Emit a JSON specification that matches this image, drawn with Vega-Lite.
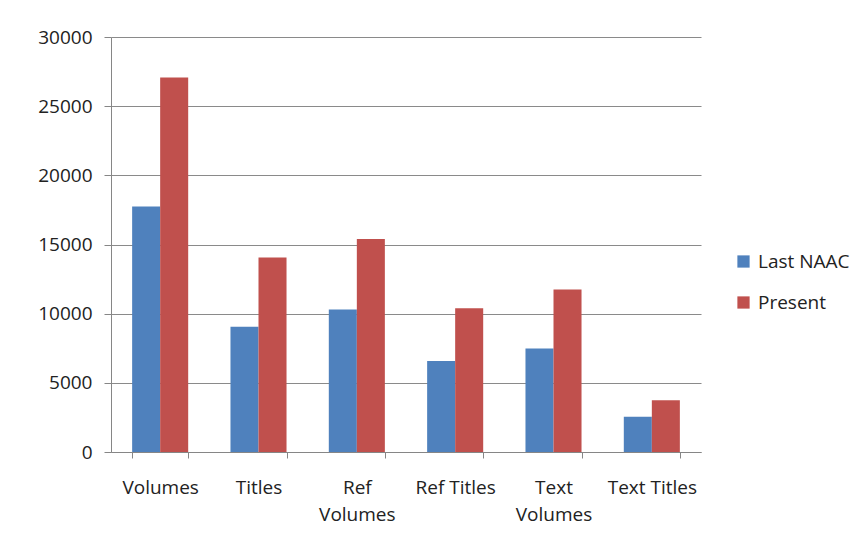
{
  "$schema": "https://vega.github.io/schema/vega-lite/v6.json",
  "autosize": {"type": "none"},
  "width": 590,
  "height": 415,
  "padding": {"left": 111, "top": 37, "right": 160, "bottom": 94},
  "background": "white",
  "config": {
    "font": "Open Sans",
    "view": {"stroke": null},
    "axis": {"labelFont": "Open Sans", "labelColor": "#222222", "labelFontSize": 19, "domainColor": "#868686", "tickColor": "#868686", "gridColor": "#8a8a8a", "gridWidth": 1.2},
    "legend": {"labelFont": "Open Sans", "labelFontSize": 19, "labelColor": "#222222"}
  },
  "data": {
    "values": [
      {"category": "Volumes", "series": "Last NAAC", "value": 17750},
      {"category": "Volumes", "series": "Present", "value": 27080},
      {"category": "Titles", "series": "Last NAAC", "value": 9050},
      {"category": "Titles", "series": "Present", "value": 14060},
      {"category": "Ref Volumes", "series": "Last NAAC", "value": 10300},
      {"category": "Ref Volumes", "series": "Present", "value": 15400},
      {"category": "Ref Titles", "series": "Last NAAC", "value": 6570},
      {"category": "Ref Titles", "series": "Present", "value": 10400},
      {"category": "Text Volumes", "series": "Last NAAC", "value": 7480},
      {"category": "Text Volumes", "series": "Present", "value": 11740},
      {"category": "Text Titles", "series": "Last NAAC", "value": 2550},
      {"category": "Text Titles", "series": "Present", "value": 3740}
    ]
  },
  "mark": {"type": "bar"},
  "encoding": {
    "x": {
      "field": "category",
      "type": "nominal",
      "sort": null,
      "title": null,
      "scale": {"paddingInner": 0.43, "paddingOuter": 0.215},
      "axis": {
        "labelAngle": 0,
        "tickBand": "extent",
        "tickSize": 6,
        "labelPadding": 29,
        "labelLineHeight": 27,
        "labelBaseline": "middle",
        "labelExpr": "(datum.label == 'Ref Volumes' || datum.label == 'Text Volumes') ? split(datum.label, ' ') : datum.label",
        "grid": false,
        "domainColor": "#868686"
      }
    },
    "xOffset": {"field": "series", "type": "nominal", "sort": ["Last NAAC", "Present"]},
    "y": {
      "field": "value",
      "type": "quantitative",
      "title": null,
      "scale": {"domain": [0, 30000], "nice": false},
      "axis": {"values": [0, 5000, 10000, 15000, 20000, 25000, 30000], "tickSize": 7, "labelPadding": 12, "grid": true, "format": "d"}
    },
    "color": {
      "field": "series",
      "type": "nominal",
      "title": null,
      "scale": {"domain": ["Last NAAC", "Present"], "range": ["#4F81BD", "#C0504D"]},
      "legend": {"orient": "none", "legendX": 623, "legendY": 215, "symbolType": "square", "symbolSize": 150, "symbolStrokeWidth": 0, "rowPadding": 21, "labelOffset": 5}
    }
  }
}
